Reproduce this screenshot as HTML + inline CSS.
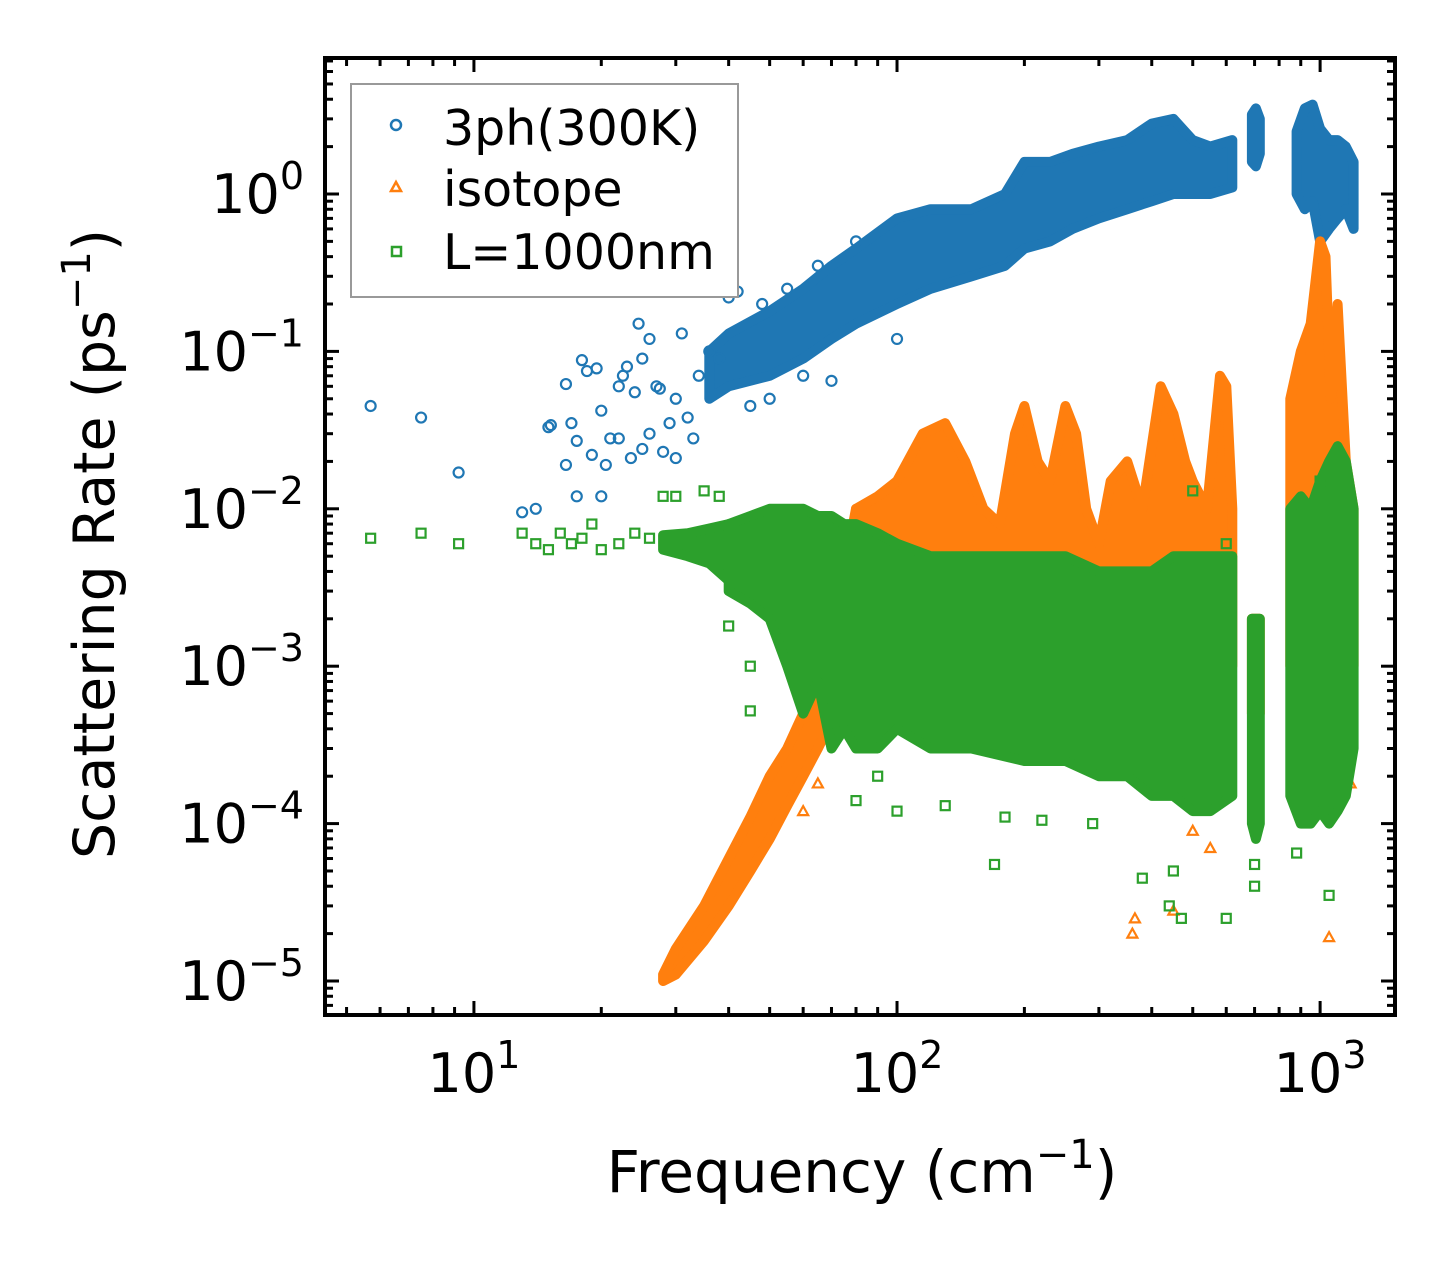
<!DOCTYPE html>
<html><head><meta charset="utf-8">
<style>
html,body{margin:0;padding:0;background:#fff;}
svg{display:block;font-family:"DejaVu Sans","Liberation Sans",sans-serif;}
</style></head>
<body>
<svg id="chart" width="1455" height="1265" viewBox="0 0 1455 1265" xmlns="http://www.w3.org/2000/svg">
<g id="bands"></g>
<g id="axes"></g>
<text x="862" y="1192" font-size="58" text-anchor="middle">Frequency (cm<tspan dy="-24" font-size="40">−1</tspan><tspan dy="24">)</tspan></text>
<text transform="translate(114,544) rotate(-90)" font-size="57" text-anchor="middle">Scattering Rate (ps<tspan dy="-24" font-size="40">−1</tspan><tspan dy="24">)</tspan></text>
<g>
<rect x="351" y="84" width="387" height="213" fill="#fff" stroke="#999" stroke-width="2"/>
<circle cx="396" cy="125" r="5" fill="none" stroke="#1f77b4" stroke-width="2.5"/>
<text x="443" y="145" font-size="49">3ph(300K)</text>
<polygon points="396,182 401,191 391,191" fill="none" stroke="#ff7f0e" stroke-width="2.5"/>
<text x="443" y="206" font-size="49">isotope</text>
<rect x="392" y="247" width="9" height="9" fill="none" stroke="#2ca02c" stroke-width="2.5"/>
<text x="443" y="269" font-size="49">L=1000nm</text>
</g>
</svg>
<script>
// ---- data ----
const xTickVals=[10,100,1000];
const xTickExp=["1","2","3"];
const yTickVals=[1,0.1,0.01,0.001,0.0001,0.00001];
const yTickExp=["0","−1","−2","−3","−4","−5"];

const blueF1=[36,40,50,60,70,80,100,120,150,180,200,230,260,300,350,400,450,500,550,620];
const blueLo1=[0.05,0.06,0.07,0.09,0.12,0.15,0.2,0.25,0.3,0.35,0.45,0.5,0.6,0.7,0.8,0.9,1.0,1.0,1.0,1.1];
const blueHi1=[0.1,0.13,0.18,0.25,0.35,0.45,0.7,0.8,0.8,1.0,1.6,1.6,1.8,2.0,2.2,2.8,3.0,2.2,2.0,2.2];
const blueF2=[690,705,720];
const blueLo2=[1.6,1.5,1.8];
const blueHi2=[3.2,3.5,3.0];
const blueF3=[880,920,960,1000,1050,1100,1150,1200];
const blueLo3=[1.0,0.8,0.9,0.5,0.6,0.7,0.8,0.6];
const blueHi3=[2.5,3.5,3.7,2.6,2.2,2.2,2.0,1.6];
const blueOutF=[5.7,7.5,9.2,13,14,15,15.2,16.5,16.5,17,17.5,17.5,18,18.5,19,19.5,20,20,20.5,21,22,22,22.5,23,23.5,24,24.5,25,25,26,26,27,27.5,28,29,30,30,31,32,33,34,36,38,40,42,45,48,50,55,60,65,70,80,100];
const blueOutV=[0.045,0.038,0.017,0.0095,0.01,0.033,0.034,0.019,0.062,0.035,0.012,0.027,0.088,0.075,0.022,0.078,0.042,0.012,0.019,0.028,0.028,0.06,0.07,0.08,0.021,0.055,0.15,0.09,0.024,0.12,0.03,0.06,0.058,0.023,0.035,0.05,0.021,0.13,0.038,0.028,0.07,0.1,0.09,0.22,0.24,0.045,0.2,0.05,0.25,0.07,0.35,0.065,0.5,0.12];

const orF1=[28,30,35,40,45,50,55,60,65,70,75,80];
const orLo1=[1e-5,1.1e-5,1.8e-5,3e-5,5e-5,8e-5,1.3e-4,2e-4,3e-4,4.5e-4,7e-4,1e-3];
const orHi1=[1.1e-5,1.6e-5,3e-5,6e-5,1.1e-4,2e-4,3e-4,5e-4,8e-4,1.5e-3,4e-3,0.01];
const orF2=[80,90,100,115,130,145,160,175,190,200,215,230,250,265,280,300,320,350,380,420,450,480,500,540,580,600,620];
const orLo2=[1e-3,1e-3,1e-3,1e-3,1e-3,1e-3,1e-3,1e-3,1e-3,1e-3,1e-3,1e-3,1e-3,1e-3,1e-3,1e-3,1e-3,1e-3,1e-3,1e-3,1e-3,1e-3,1e-3,1e-3,1e-3,1e-3,1e-3];
const orHi2=[0.01,0.012,0.015,0.03,0.035,0.02,0.01,0.008,0.03,0.045,0.02,0.015,0.045,0.03,0.01,0.006,0.015,0.02,0.01,0.06,0.04,0.02,0.015,0.01,0.07,0.06,0.01];
const orF3=[690,705,720];
const orLo3=[5e-4,5e-4,5e-4];
const orHi3=[2e-3,2e-3,2e-3];
const orF4=[850,900,950,1000,1030,1060,1100,1150,1200];
const orLo4=[1e-3,1e-3,1e-3,1e-3,1e-3,1e-3,1e-3,1e-3,1e-3];
const orHi4=[0.05,0.1,0.15,0.5,0.4,0.05,0.2,0.02,0.01];
const orOutF=[360,365,450,1050,500,550,1180,1150,60,65];
const orOutV=[2e-5,2.5e-5,2.8e-5,1.9e-5,9e-5,7e-5,1.8e-4,7e-4,1.2e-4,1.8e-4];

const grF0=[28,32,36,40];
const grLo0=[5.5e-3,5e-3,4.5e-3,3.5e-3];
const grHi0=[6.8e-3,7e-3,7.5e-3,8e-3];
const grF1=[40,45,50,55,60,65,70,75,80,90,100,120,150,200,250,300,350,400,450,500,550,620];
const grLo1=[3e-3,2.5e-3,2e-3,1e-3,5e-4,8e-4,3e-4,4e-4,3e-4,3e-4,4e-4,3e-4,3e-4,2.5e-4,2.5e-4,2e-4,2e-4,1.5e-4,1.5e-4,1.2e-4,1.2e-4,1.5e-4];
const grHi1=[8e-3,9e-3,1e-2,1e-2,1e-2,9e-3,9e-3,8e-3,8e-3,7e-3,6e-3,5e-3,5e-3,5e-3,5e-3,4e-3,4e-3,4e-3,5e-3,5e-3,5e-3,5e-3];
const grF2=[690,705,720];
const grLo2=[1e-4,8e-5,1e-4];
const grHi2=[2e-3,2e-3,2e-3];
const grF3=[850,900,950,1000,1050,1100,1150,1200];
const grLo3=[1.5e-4,1e-4,1e-4,1.2e-4,1e-4,1.2e-4,1.5e-4,3e-4];
const grHi3=[1e-2,1.2e-2,1e-2,1.5e-2,2e-2,2.5e-2,2e-2,1e-2];
const grOutF=[5.7,7.5,9.2,13,14,15,16,17,18,19,20,22,24,26,28,30,32,35,38,40,45,45,80,90,100,130,170,180,220,290,380,440,450,470,600,700,700,880,1050,500,600,1000];
const grOutV=[0.0065,0.007,0.006,0.007,0.006,0.0055,0.007,0.006,0.0065,0.008,0.0055,0.006,0.007,0.0065,0.012,0.012,0.006,0.013,0.012,0.0018,5.2e-4,1e-3,1.4e-4,2e-4,1.2e-4,1.3e-4,5.5e-5,1.1e-4,1.05e-4,1e-4,4.5e-5,3e-5,5e-5,2.5e-5,2.5e-5,4e-5,5.5e-5,6.5e-5,3.5e-5,1.3e-2,6e-3,1.5e-2];

// ---- scales ----
const X0=325,X1=1395,Y0=58,Y1=1015;
const xLogMin=0.648,xLogMax=3.177,yLogMin=-5.216,yLogMax=0.864;
function sx(v){return X0+(Math.log10(v)-xLogMin)/(xLogMax-xLogMin)*(X1-X0);}
function sy(v){return Y1-(Math.log10(v)-yLogMin)/(yLogMax-yLogMin)*(Y1-Y0);}
const NS="http://www.w3.org/2000/svg";
const layer=document.getElementById('bands');
const axes=document.getElementById('axes');
function mk(tag,attrs,parent){const e=document.createElementNS(NS,tag);for(const k in attrs)e.setAttribute(k,attrs[k]);parent.appendChild(e);return e;}

function band(F,Lo,Hi,color,name){
  const pts=[];
  for(let i=0;i<F.length;i++)pts.push(sx(F[i]).toFixed(1)+','+sy(Hi[i]).toFixed(1));
  for(let i=F.length-1;i>=0;i--)pts.push(sx(F[i]).toFixed(1)+','+sy(Lo[i]).toFixed(1));
  const p=mk('polygon',{points:pts.join(' '),fill:color,stroke:color,'stroke-width':10,'stroke-linejoin':'round'},layer);
  
  
}
function scatter(F,V,color,shape,name){
  for(let i=0;i<F.length;i++){
    const x=sx(F[i]),y=sy(V[i]);let e;
    if(shape==='c')e=mk('circle',{cx:x,cy:y,r:5,fill:'none',stroke:color,'stroke-width':2.2},layer);
    else if(shape==='t')e=mk('polygon',{points:`${x},${y-5} ${x+5},${y+4} ${x-5},${y+4}`,fill:'none',stroke:color,'stroke-width':2.2},layer);
    else e=mk('rect',{x:x-4.5,y:y-4.5,width:9,height:9,fill:'none',stroke:color,'stroke-width':2.2},layer);
    
    
  }
}
const B='#1f77b4',O='#ff7f0e',G='#2ca02c';
band(blueF1,blueLo1,blueHi1,B,'3ph-band');band(blueF2,blueLo2,blueHi2,B,'3ph-band');band(blueF3,blueLo3,blueHi3,B,'3ph-band');
scatter(blueOutF,blueOutV,B,'c','3ph-point');
band(orF1,orLo1,orHi1,O,'isotope-band');band(orF2,orLo2,orHi2,O,'isotope-band');band(orF3,orLo3,orHi3,O,'isotope-band');band(orF4,orLo4,orHi4,O,'isotope-band');
scatter(orOutF,orOutV,O,'t','isotope-point');
band(grF0,grLo0,grHi0,G,'boundary-band');band(grF1,grLo1,grHi1,G,'boundary-band');band(grF2,grLo2,grHi2,G,'boundary-band');band(grF3,grLo3,grHi3,G,'boundary-band');
scatter(grOutF,grOutV,G,'s','boundary-point');

// ---- axes ----
const frame=mk('rect',{x:X0,y:Y0,width:X1-X0,height:Y1-Y0,fill:'none',stroke:'#000','stroke-width':4},axes);


function tick(x1,y1,x2,y2,w){mk('line',{x1,y1,x2,y2,stroke:'#000','stroke-width':w},axes);}
for(let d=0;d<=3;d++){for(let m=1;m<10;m++){const v=m*Math.pow(10,d);if(v<4.45||v>1503)continue;const x=sx(v);const L=m===1?14:8;tick(x,Y1,x,Y1-L,3);tick(x,Y0,x,Y0+L,3);}}
for(let d=-6;d<=0;d++){for(let m=1;m<10;m++){const v=m*Math.pow(10,d);if(Math.log10(v)<yLogMin||Math.log10(v)>yLogMax)continue;const y=sy(v);const L=m===1?14:8;tick(X0,y,X0+L,y,3);tick(X1,y,X1-L,y,3);}}
for(let i=0;i<xTickVals.length;i++){
  const t=mk('text',{x:sx(xTickVals[i]),y:1092,'font-size':54,'text-anchor':'middle'},axes);
  t.innerHTML='10<tspan dy="-24" font-size="38">'+xTickExp[i]+'</tspan>';
  
  
}
for(let i=0;i<yTickVals.length;i++){
  const t=mk('text',{x:304,y:sy(yTickVals[i])+19,'font-size':54,'text-anchor':'end'},axes);
  t.innerHTML='10<tspan dy="-24" font-size="38">'+yTickExp[i]+'</tspan>';
  
  
}
</script>
</body></html>
